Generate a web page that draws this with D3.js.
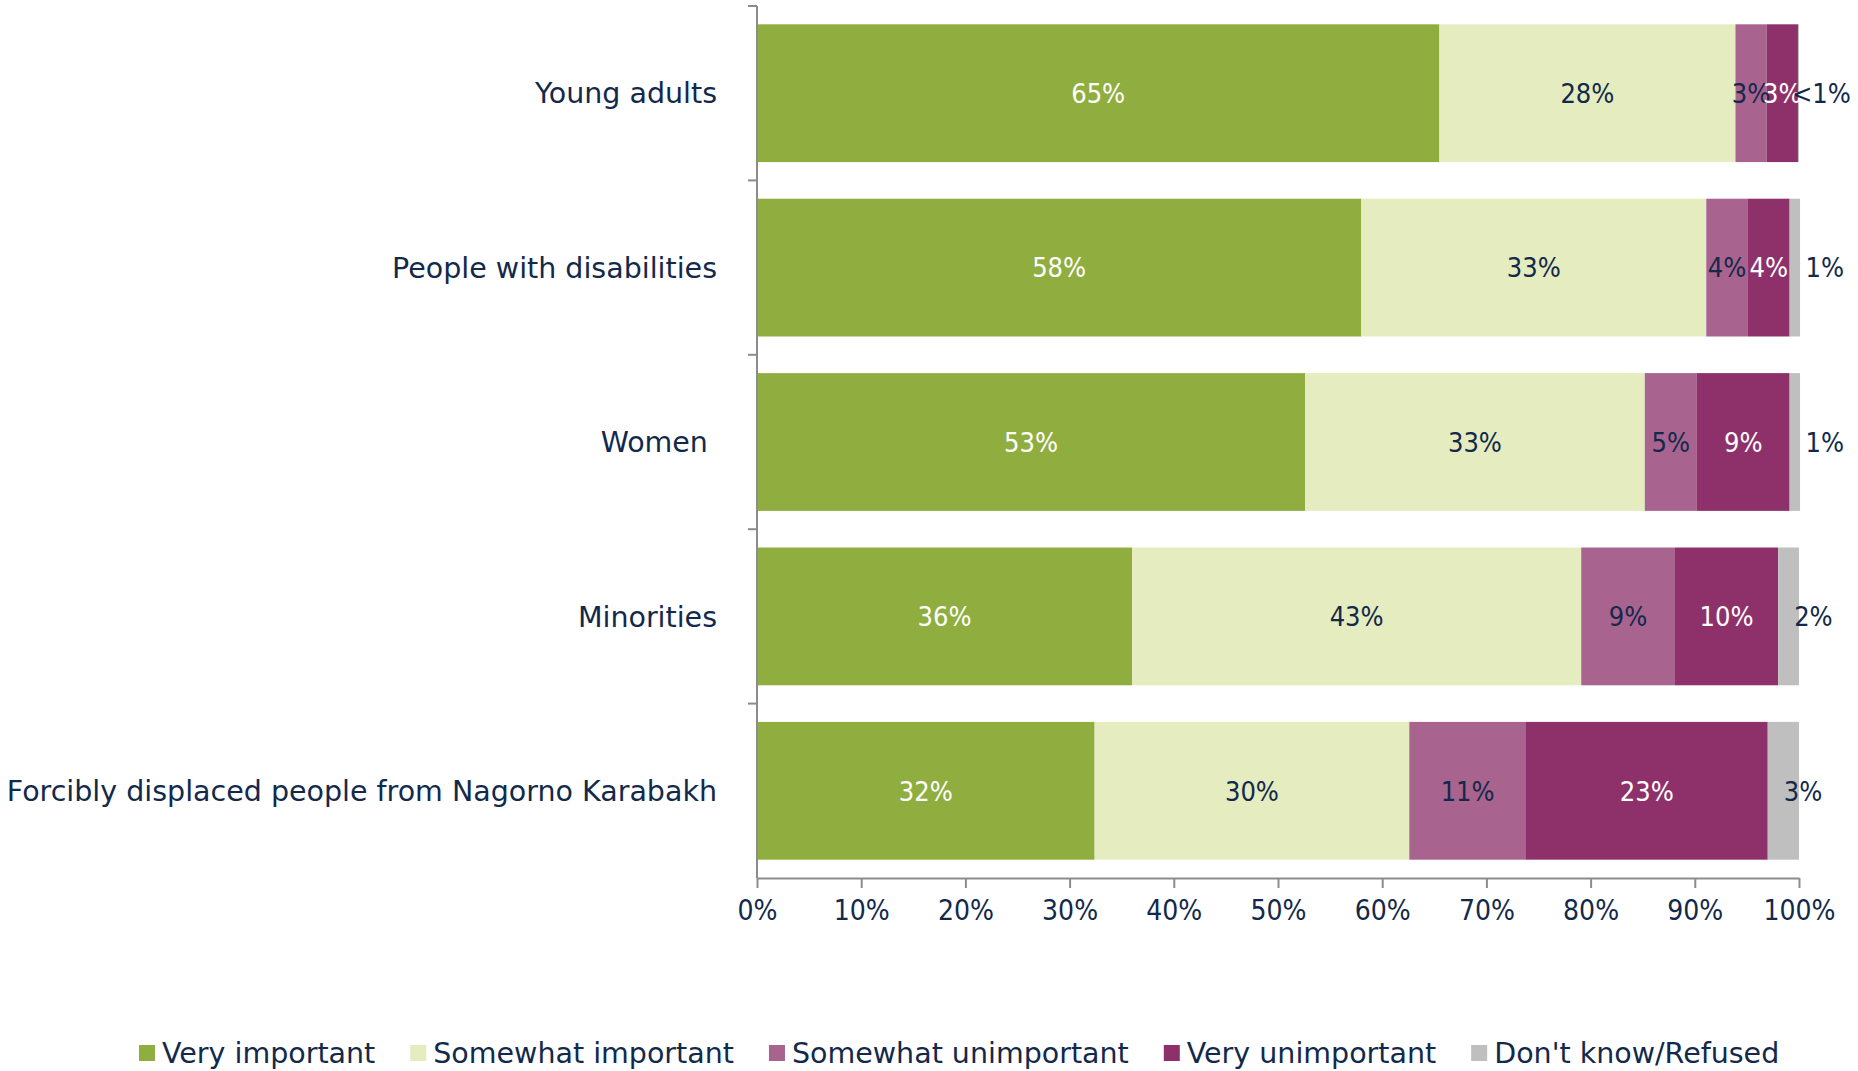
<!DOCTYPE html>
<html>
<head>
<meta charset="utf-8">
<script src="https://cdn.jsdelivr.net/npm/d3@7"></script>
<style>
  body { margin: 0; background: #fff; }
  text { font-family: "DejaVu Sans", sans-serif; fill: #13294b; }
  .narrow { font-family: "DejaVu Sans Condensed", "DejaVu Sans", sans-serif; }
</style>
</head>
<body>
<div id="chart"></div>
<script>
// categories and series (percent of respondents)
const categories = ['Young adults', 'People with disabilities', 'Women\u00a0', 'Minorities',
  'Forcibly displaced people from Nagorno Karabakh'];
const series = ['Very important', 'Somewhat important', 'Somewhat unimportant', 'Very unimportant', "Don't know/Refused"];
const veryImportant = [65.49, 58.0, 52.6, 36.0, 32.4];
const somewhatImportant = [28.41, 33.1, 32.6, 43.1, 30.2];
const somewhatUnimportant = [3.0, 4.0, 5.0, 9.0, 11.2];
const veryUnimportant = [3.0, 4.0, 8.9, 9.9, 23.2];
const dontKnow = [0.1, 1.0, 1.0, 2.0, 3.0];
const xTicks = [0, 0.1, 0.2, 0.3, 0.4, 0.5, 0.6, 0.7, 0.8, 0.9, 1];

const colors = ['#8fae3f', '#e4ecc0', '#a9638f', '#8e316b', '#bfbfbf'];
const labelColors = ['#ffffff', '#13294b', '#13294b', '#ffffff', '#13294b'];

const W = 1858, H = 1071;
const margin = {top: 6, right: 59, bottom: 193, left: 757};
const width = W - margin.left - margin.right,
  height = H - margin.top - margin.bottom;

const rows = categories.map((c, i) => {
  const vals = [veryImportant[i], somewhatImportant[i], somewhatUnimportant[i], veryUnimportant[i], dontKnow[i]];
  let acc = 0;
  const segs = vals.map((v, k) => {
    const s = {k, v, x0: acc, x1: acc + v};
    acc += v;
    return s;
  });
  return {cat: c, segs};
});

const svg = d3.select('#chart').append('svg')
  .attr('width', W).attr('height', H);
const g = svg.append('g').attr('transform', `translate(${margin.left},${margin.top})`);

const x = d3.scaleLinear().domain([0, 100]).range([0, width]);
const y = d3.scaleBand().domain(categories).range([0, height]).paddingInner(0.21).paddingOuter(0.105);

// bars
const row = g.selectAll('.row').data(rows).enter().append('g')
  .attr('transform', d => `translate(0,${y(d.cat)})`);

row.selectAll('rect').data(d => d.segs).enter().append('rect')
  .attr('x', d => x(d.x0))
  .attr('width', d => x(d.x1) - x(d.x0))
  .attr('height', y.bandwidth())
  .attr('fill', d => colors[d.k]);

// value labels
row.selectAll('.lbl').data(d => d.segs).enter().append('text')
  .attr('class', 'lbl narrow')
  .attr('x', d => d.k === 4 ? x(d.x0) + (d.v < 1 ? -6 : 16) : x((d.x0 + d.x1) / 2))
  .attr('y', y.bandwidth() / 2)
  .attr('dy', '0.36em')
  .attr('text-anchor', d => d.k === 4 ? 'start' : 'middle')
  .style('font-size', '27px')
  .style('fill', d => labelColors[d.k])
  .text(d => d.v < 1 ? '<1%' : Math.round(d.v) + '%');

// y axis (category labels, ticks between bands)
const yStep = y.step();
g.append('line').attr('x1', 0).attr('x2', 0).attr('y1', 0).attr('y2', height)
  .attr('stroke', '#8c8c8c').attr('stroke-width', 2);
g.selectAll('.ytick').data(d3.range(categories.length)).enter().append('line')
  .attr('x1', -9).attr('x2', 0)
  .attr('y1', i => i * yStep).attr('y2', i => i * yStep)
  .attr('stroke', '#8c8c8c').attr('stroke-width', 2);
g.selectAll('.cat').data(categories).enter().append('text')
  .attr('x', -40)
  .attr('y', d => y(d) + y.bandwidth() / 2)
  .attr('dy', '0.36em')
  .attr('text-anchor', 'end')
  .style('font-size', '28.5px')
  .style('white-space', 'pre')
  .text(d => d);

// x axis
const xAxis = g.append('g').attr('transform', `translate(0,${height})`)
  .call(d3.axisBottom(x).tickValues(xTicks.map(t => t * 100))
    .tickFormat(t => Math.round(t) + '%').tickSize(10).tickSizeOuter(0));
xAxis.attr('font-family', null).attr('font-size', null);
xAxis.select('.domain').attr('stroke', '#8c8c8c').attr('stroke-width', 2);
xAxis.selectAll('.tick line').attr('stroke', '#8c8c8c').attr('stroke-width', 2);
xAxis.selectAll('.tick text').attr('class', 'narrow').style('font-size', '28px')
  .attr('fill', null).attr('y', 22).attr('dy', '0.71em');

// legend
const legend = svg.append('g').attr('transform', 'translate(139,1053)');
let lx = 0;
series.forEach((s, i) => {
  const item = legend.append('g').attr('transform', `translate(${lx},0)`);
  item.append('rect').attr('x', 0).attr('y', -8).attr('width', 16).attr('height', 16).attr('fill', colors[i]);
  const t = item.append('text').attr('x', 23).attr('dy', '0.36em').style('font-size', '28.5px').text(s);
  lx += 23 + t.node().getComputedTextLength() + 35;
});
</script>
</body>
</html>
